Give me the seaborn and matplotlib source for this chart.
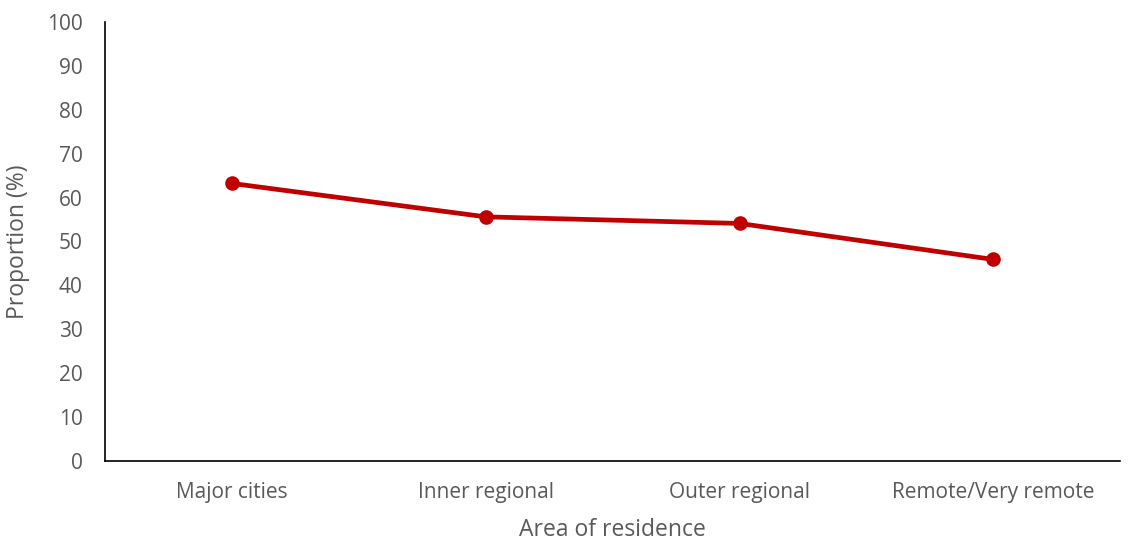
import seaborn as sns
import matplotlib.pyplot as plt
import pandas as pd

areas = ['Major cities', 'Inner regional', 'Outer regional', 'Remote/Very remote']
proportion = [63.2, 55.6, 54.1, 45.9]

data = pd.DataFrame({'Area': areas, 'Proportion': proportion})

sns.set_style('white')
plt.rcParams['font.family'] = ['Open Sans', 'DejaVu Sans']

fig = plt.figure(figsize=(11.42, 5.42), dpi=100)
ax = fig.add_axes([0.092, 0.149, 0.889, 0.811])

sns.lineplot(x='Area', y='Proportion', data=data, ax=ax, color='#C00000',
             linewidth=3.4, marker='o', markersize=10.5, markeredgewidth=0, sort=False)

ax.set_ylim(0, 100)
ax.set_yticks(range(0, 101, 10))
ax.set_xlim(-0.5, 3.5)

grey = '#595959'
ax.tick_params(axis='both', colors=grey, labelsize=15, length=0)
ax.tick_params(axis='x', pad=15)
ax.tick_params(axis='y', pad=16)
ax.set_xlabel('Area of residence', fontsize=16.5, color=grey, labelpad=11)
ax.set_ylabel('Proportion (%)', fontsize=16.5, color=grey, labelpad=12)

for side in ['top', 'right']:
    ax.spines[side].set_visible(False)
for side in ['left', 'bottom']:
    ax.spines[side].set_color('#000000')
    ax.spines[side].set_linewidth(1.2)

plt.savefig('out.png', dpi=100)
